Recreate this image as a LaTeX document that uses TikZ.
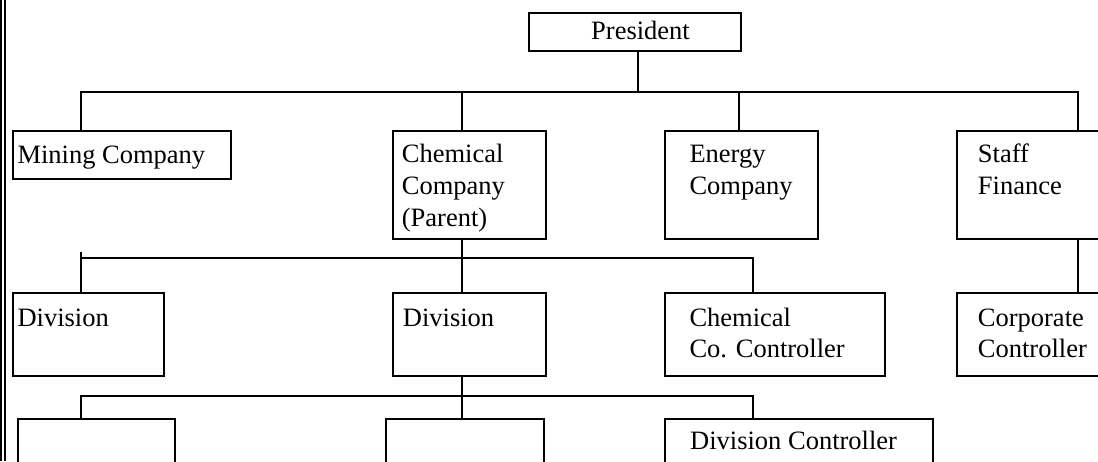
\documentclass[tikz,border=0pt]{standalone}
\usepackage{fontspec}
\setmainfont{Liberation Serif}
\begin{document}
\begin{tikzpicture}[x=1pt,y=-1pt,
  box/.style={draw,line width=1.8pt,inner sep=0pt,anchor=north west},
  txt/.style={anchor=base west,inner sep=0pt,align=left,font=\fontsize{26.5}{31.8}\selectfont},
  conn/.style={line width=1.8pt}]
\useasboundingbox (0,0) rectangle (1098,461);
\clip (0,0) rectangle (1098,461);
\fill[white] (0,0) rectangle (1098,461);
% left double border
\draw[line width=2pt] (1,0) -- (1,461);
\draw[line width=2pt] (5,0) -- (5,461);
% boxes
\node[box,minimum width=211.7pt,minimum height=37.7pt] (pres) at (528.3,12.3) {};
\node[box,minimum width=218.3pt,minimum height=47.7pt] (mining) at (11.7,130) {};
\node[box,minimum width=153pt,minimum height=108.3pt] (chem) at (392,130) {};
\node[box,minimum width=153pt,minimum height=108.3pt] (energy) at (664.3,130) {};
\node[box,minimum width=160pt,minimum height=108.3pt] (staff) at (955.7,130) {};
\node[box,minimum width=151.6pt,minimum height=82.7pt] (div1) at (11.7,292.3) {};
\node[box,minimum width=153pt,minimum height=82.7pt] (div2) at (392,292.3) {};
\node[box,minimum width=219.7pt,minimum height=82.7pt] (ccc) at (664.3,292.3) {};
\node[box,minimum width=160pt,minimum height=82.7pt] (corp) at (955.7,292.3) {};
\node[box,minimum width=157.6pt,minimum height=70pt] (b1) at (16.7,417.7) {};
\node[box,minimum width=157.7pt,minimum height=70pt] (b2) at (385,417.7) {};
\node[box,minimum width=267.4pt,minimum height=70pt] (b3) at (664.3,417.7) {};
% texts (anchor = baseline of the last line)
\node[txt] (tpres) at (591,39.3) {President};
\node[txt] (tmining) at (17.3,163.3) {Mining Company};
\node[txt] (tchem) at (401.7,226.3) {Chemical\\Company\\(Parent)};
\node[txt] (tenergy) at (689.3,194.5) {Energy\\Company};
\node[txt] (tstaff) at (977.7,194.5) {Staff\\Finance};
\node[txt] (tdiv1) at (17.3,326) {Division};
\node[txt] (tdiv2) at (402.7,326) {Division};
\node[txt] (tccc) at (689.3,357.8) {Chemical\\Co. Controller};
\node[txt] (tcorp) at (977.7,357.8) {Corporate\\Controller};
\node[txt] (tb3) at (690,449) {Division Controller};
% bus coordinates
\coordinate (p0) at (638.3,91.7);
\coordinate (a1) at (80.7,91.7);
\coordinate (a2) at (462.3,91.7);
\coordinate (a3) at (739.3,91.7);
\coordinate (a4) at (1078.3,91.7);
\coordinate (m1) at (80.7,257.7);
\coordinate (m1t) at (80.7,251.7);
\coordinate (m2) at (462.3,257.7);
\coordinate (m3) at (752.7,257.7);
\coordinate (s1) at (80.7,395.7);
\coordinate (s2) at (462.3,395.7);
\coordinate (s3) at (752.7,395.7);
% connectors
\draw[conn] (pres.south -| p0) -- (p0);
\draw[conn] (a1 |- mining.north) -- (a1) -- (a4) -- (a4 |- staff.north);
\draw[conn] (a2) -- (a2 |- chem.north);
\draw[conn] (a3) -- (a3 |- energy.north);
\draw[conn] (chem.south -| a2) -- (a2 |- div2.north);
\draw[conn] (m1t) -- (m1 |- div1.north);
\draw[conn] (m1) -- (m3) -- (m3 |- ccc.north);
\draw[conn] (staff.south -| a4) -- (a4 |- corp.north);
\draw[conn] (div2.south -| s2) -- (s2 |- b2.north);
\draw[conn] (s1 |- b1.north) -- (s1) -- (s3) -- (s3 |- b3.north);
\end{tikzpicture}
\end{document}
